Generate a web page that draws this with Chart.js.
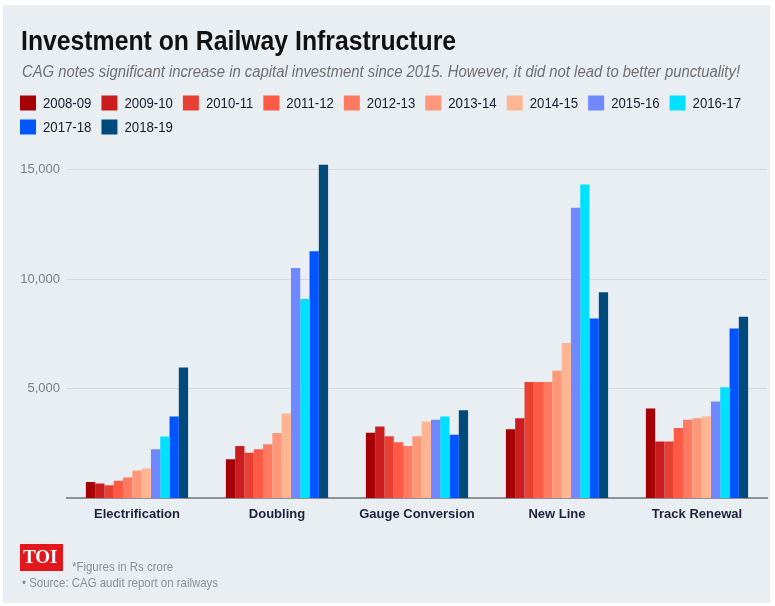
<!DOCTYPE html>
<html>
<head>
<meta charset="utf-8">
<title>Investment on Railway Infrastructure</title>
<script src="https://cdn.jsdelivr.net/npm/chart.js@4.4.0/dist/chart.umd.min.js"></script>
<style>
    html, body { margin: 0; padding: 0; background: #ffffff; }
    canvas { display: block; }
</style>
</head>
<body>
<canvas id="railChart" width="775" height="606"></canvas>
<script>
/* =========================
   DATA (Rs crore)
========================= */

const categories = ["Electrification", "Doubling", "Gauge Conversion", "New Line", "Track Renewal"];
const years = ["2008-09", "2009-10", "2010-11", "2011-12", "2012-13", "2013-14", "2014-15", "2015-16", "2016-17", "2017-18", "2018-19"];

const fy0809 = [750, 1790, 3000, 3160, 4100];
const fy0910 = [680, 2390, 3280, 3660, 2600];
const fy1011 = [600, 2080, 2840, 5320, 2600];
const fy1112 = [810, 2240, 2560, 5320, 3220];
const fy1213 = [960, 2470, 2390, 5320, 3590];
const fy1314 = [1270, 2990, 2840, 5830, 3660];
const fy1415 = [1360, 3880, 3510, 7100, 3740];
const fy1516 = [2240, 10520, 3590, 13270, 4420];
const fy1617 = [2830, 9100, 3740, 14330, 5070];
const fy1718 = [3740, 11280, 2910, 8220, 7760];
const fy1819 = [5980, 15230, 4030, 9410, 8290];

const yTicks = [0, 5000, 10000, 15000];

const seriesValues = [fy0809, fy0910, fy1011, fy1112, fy1213, fy1314, fy1415, fy1516, fy1617, fy1718, fy1819];

const colors = [
    "#a50005", "#cb1c1f", "#e84033", "#ff5a45", "#ff7a60", "#ff9878",
    "#ffb592", "#7088ff", "#00e0ff", "#0055ff", "#004a7c"
];

const SANS = "'Liberation Sans', Arial, sans-serif";


/* =========================
   HELPERS
========================= */

// no condensed face installed, so squeeze text horizontally
function squeezeText(c, text, x, y, sx) {
    c.save();
    c.translate(x, y);
    c.scale(sx, 1);
    c.fillText(text, 0, 0);
    c.restore();
}


/* =========================
   HEADER / FOOTER PLUGIN
========================= */

const frame = {
    id: "frame",
    beforeDraw(chart) {
        const c = chart.ctx;
        c.save();
        c.fillStyle = "#ffffff";
        c.fillRect(0, 0, chart.width, chart.height);
        c.fillStyle = "#e9eef3";
        c.fillRect(3, 5, 767, 598);
        c.restore();
    },
    afterDraw(chart) {
        const c = chart.ctx;
        c.save();

        // title + subtitle
        c.textBaseline = "alphabetic";
        c.fillStyle = "#111111";
        c.font = "bold 28px " + SANS;
        squeezeText(c, "Investment on Railway Infrastructure", 21, 50, 0.885);

        c.fillStyle = "#6f6f6f";
        c.font = "italic 16px " + SANS;
        const sub = "CAG notes significant increase in capital investment since 2015. However, it did not lead to better punctuality!";
        squeezeText(c, sub, 22, 77, 718 / c.measureText(sub).width);

        // legend
        const lsx = 0.88;
        c.font = "15px " + SANS;
        c.textBaseline = "middle";
        let x = 20, y = 103;
        chart.data.datasets.forEach(ds => {
            const w = 16 + 7 + c.measureText(ds.label).width * lsx;
            if (x + w > 765) { x = 20; y += 24; }
            c.fillStyle = ds.backgroundColor;
            c.fillRect(x, y - 7.5, 16, 15);
            c.fillStyle = "#1a1a2a";
            squeezeText(c, ds.label, x + 23, y + 1, lsx);
            x += w + 10;
        });

        // footer
        c.fillStyle = "#e3171c";
        c.fillRect(20, 544, 43, 27);
        c.fillStyle = "#ffffff";
        c.font = "bold 19px 'Liberation Serif', serif";
        c.textBaseline = "middle";
        c.fillText("TOI", 23, 558);

        c.fillStyle = "#8a8f96";
        c.font = "13px " + SANS;
        c.textBaseline = "alphabetic";
        squeezeText(c, "*Figures in Rs crore", 72, 571, 0.88);
        squeezeText(c, "\u2022 Source: CAG audit report on railways", 22, 587, 0.88);

        c.restore();
    }
};


/* =========================
   CHART
========================= */

function renderRailChart() {
    const ctx = document.getElementById("railChart");
    if (!ctx) return;

    new Chart(ctx, {
        type: "bar",
        data: {
            labels: categories,
            datasets: years.map((yr, i) => ({
                label: yr,
                data: seriesValues[i],
                backgroundColor: colors[i],
                borderWidth: 0,
                categoryPercentage: 0.73,
                barPercentage: 1.0
            }))
        },
        options: {
            responsive: false,
            animation: false,
            layout: {
                padding: { top: 148, left: 17, right: 8, bottom: 84 }
            },
            plugins: {
                legend: { display: false },
                tooltip: { enabled: false }
            },
            scales: {
                x: {
                    grid: { display: false },
                    border: { color: "#8e9297", width: 2 },
                    ticks: {
                        color: "#1b2238",
                        font: { family: SANS, size: 13, weight: "bold" },
                        padding: 0
                    }
                },
                y: {
                    min: 0,
                    max: 16000,
                    afterBuildTicks: scale => {
                        scale.ticks = yTicks.map(v => ({ value: v }));
                    },
                    afterFit: scale => {
                        scale.width = 50;
                    },
                    border: { display: false },
                    grid: {
                        drawTicks: false,
                        color: c => (c.tick && c.tick.value === 0) ? "rgba(0,0,0,0)" : "#d5d9de",
                        lineWidth: 1
                    },
                    ticks: {
                        color: "#7a7f86",
                        padding: 7,
                        font: { family: SANS, size: 13 },
                        callback: v => v === 0 ? "" : v.toLocaleString("en-US")
                    }
                }
            }
        },
        plugins: [frame]
    });
}

document.addEventListener("DOMContentLoaded", renderRailChart);
</script>
</body>
</html>
